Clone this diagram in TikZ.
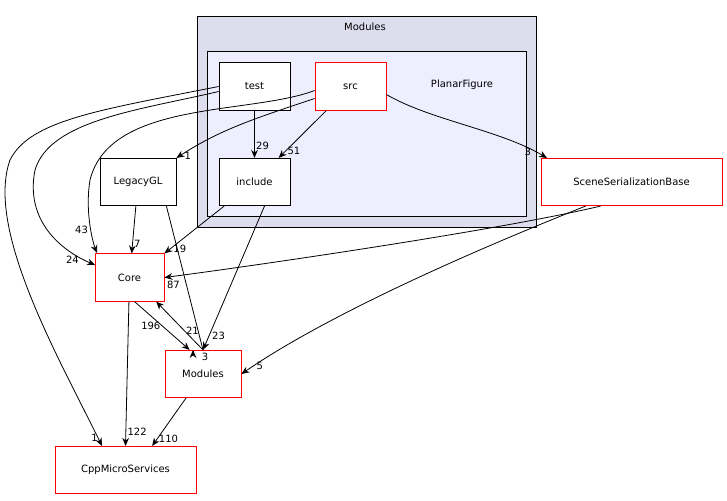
\documentclass[tikz,border=0pt]{standalone}
\usepackage{fontspec}
\setmainfont{DejaVu Sans}
\usetikzlibrary{arrows.meta}
\definecolor{outerc}{HTML}{DDDDEE}
\definecolor{innerc}{HTML}{EEEEFF}
\begin{document}
\begin{tikzpicture}[x=0.75pt,y=-0.75pt,line width=0.6pt,
  box/.style={draw=black,fill=white,inner sep=0pt,font=\fontsize{7.5}{9}\selectfont,minimum height=35.5pt},
  rbox/.style={box,draw=red},
  e/.style={-{Stealth[length=6pt,width=5pt]},black},
  lb/.style={font=\fontsize{7.5}{9}\selectfont,inner sep=0pt}]
\useasboundingbox (0,0) rectangle (727,500);
\draw[fill=outerc,draw=black] (197,16) rectangle (536,227);
\node[lb] (modlab) at (365,27) {Modules};
\draw[fill=innerc,draw=black] (207,51) rectangle (526,216);
\node[lb] (pflab) at (462,85) {PlanarFigure};
\node[box,minimum width=53.25pt] (test) at (254.5,86.5) {test};
\node[rbox,minimum width=53.25pt] (src) at (350.5,86.5) {src};
\node[box,minimum width=53.25pt] (inc) at (254.5,182) {include};
\node[box,minimum width=57pt] (lgl) at (138,182) {LegacyGL};
\node[rbox,minimum width=135.75pt] (ssb) at (631.5,182) {SceneSerializationBase};
\node[rbox,minimum width=51.75pt] (core) at (129.5,277.5) {Core};
\node[rbox,minimum width=57pt] (mods) at (203,374) {Modules};
\node[rbox,minimum width=105.75pt] (cpp) at (125.5,470) {CppMicroServices};
\draw[e] (test) -- (inc) node[lb,pos=0.75,right=1pt] {29};
\draw[e] (src) -- (inc) node[lb,pos=0.85,right=1pt] {51};
\draw[e] (src.west) ++(0,12) coordinate (s1) (s1) .. controls (250,120) and (220,130) .. (lgl.north east) node[lb,pos=0.97,right=3pt] {1};
\draw[e] (src.west) ++(0,4) coordinate (s2) (s2) .. controls (250,115) and (110,100) .. (90,180) .. controls (85,210) and (92,240) .. (97,253) node[lb,pos=0.6,left=2pt] {43};
\draw[e] (src.east) ++(0,8) coordinate (s3) (s3) .. controls (430,120) and (500,130) .. (547,158) node[lb,pos=0.92,left=3pt] {3};
\draw[e] (test.west) ++(0,5) coordinate (t1) (t1) .. controls (140,110) and (50,120) .. (35,170) .. controls (25,220) and (60,250) .. (95,265) node[lb,pos=0.9,left=4pt] {24};
\draw[e] (test.west) coordinate (t2) (t2) .. controls (100,110) and (30,120) .. (10,160) .. controls (-15,230) and (60,360) .. (102,446) node[lb,pos=0.97,left=0pt] {1};
\draw[e] (lgl) -- (core) node[lb,pos=0.8,right=1pt] {7};
\draw[e] (lgl.south east) ++(-10,0) coordinate (l1) (l1) -- (mods.north) ++(-10,0) coordinate (m0);
\node[lb] (l3) at (205,357) {3};
\draw[e] (inc) -- (core.north east) node[lb,pos=0.9,right=2pt] {19};
\draw[e] (inc.south) ++(10,0) coordinate (i1) (i1) -- (mods.north) node[lb,pos=0.9,right=2pt] {23};
\draw[e] (ssb.south west) ++(60,0) coordinate (q1) (q1) .. controls (500,230) and (260,265) .. (core.east) node[lb,pos=0.97,below=3pt] {87};
\draw[e] (ssb.south west) ++(45,0) coordinate (q2) (q2) .. controls (450,260) and (320,320) .. (mods.east) node[lb,pos=0.95,right=2pt] {5};
\draw[e] (core.south) ++(5,0) coordinate (c1) (c1) -- ([xshift=-10]mods.north) node[lb,pos=0.5,left=1pt] {196};
\draw[e] ([xshift=0]mods.north) -- ([xshift=20]core.south) node[lb,pos=0.4,right=1pt] {21};
\draw[e] (core) -- (cpp.north) node[lb,pos=0.9,right=1pt] {122};
\draw[e] (mods) -- ([xshift=20]cpp.north) node[lb,pos=0.85,right=1pt] {110};
\end{tikzpicture}
\end{document}
